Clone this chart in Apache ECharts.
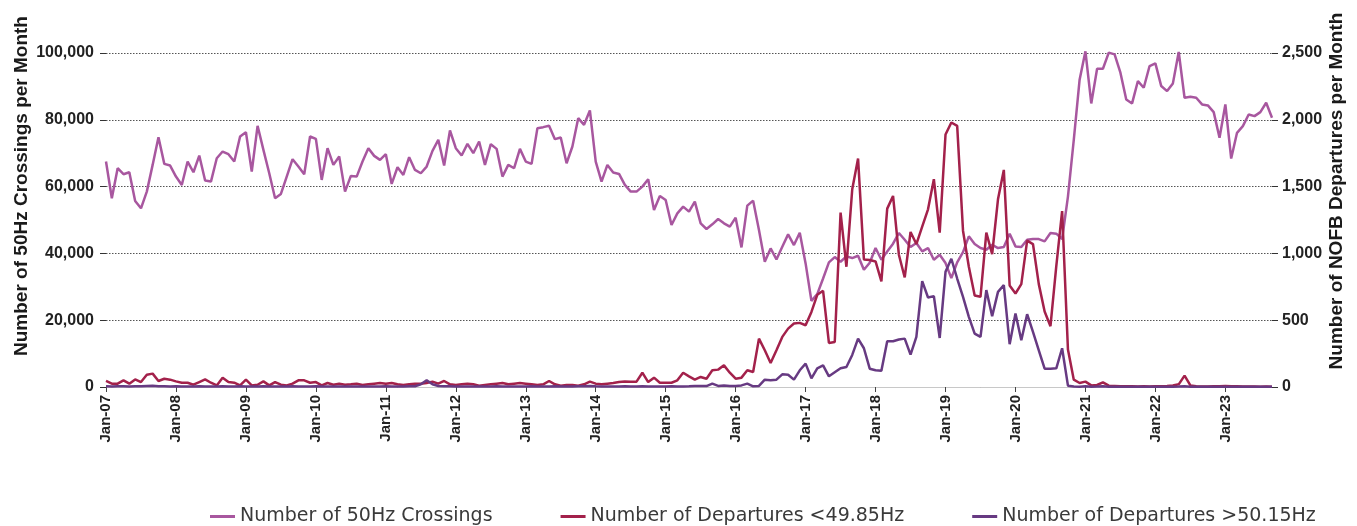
<!DOCTYPE html>
<html>
<head>
<meta charset="utf-8">
<script src="https://cdn.jsdelivr.net/npm/echarts@6/dist/echarts.min.js"></script>
<style>
html,body{margin:0;padding:0;background:#fff;}
#chart{width:1357px;height:526px;}
</style>
</head>
<body>
<div id="chart"></div>
<script>
// ---- data (monthly, Jan-07 .. Sep-23) ----
const startYear = 2007;
const monthNames = ['Jan','Feb','Mar','Apr','May','Jun','Jul','Aug','Sep','Oct','Nov','Dec'];
const seriesNames = ['Number of 50Hz Crossings', 'Number of Departures <49.85Hz', 'Number of Departures >50.15Hz'];

const crossings = [
67500,56500,65500,63700,64300,55700,53500,58500,66500,74800,66800,66300,
63000,60500,67500,64300,69300,61800,61500,68500,70500,69700,67500,75000,
76300,64500,78200,71000,64000,56500,57800,63000,68200,66000,63700,75000,
74300,62000,71500,66500,69000,58500,63200,63000,67500,71500,69200,68000,
69700,60800,65800,63500,68800,65000,64000,66000,70700,74000,66300,76800,
71500,69300,72800,70000,73500,66500,72700,71300,63000,66500,65500,71300,
67500,66800,77500,77800,78200,74200,74700,67000,72000,80500,78500,82800,
67500,61500,66500,64200,63800,60500,58500,58500,60000,62200,53000,57200,
56000,48500,52000,54000,52500,55500,49000,47300,48700,50300,49000,48000,
50700,41800,54300,55800,47000,37500,41500,38200,42000,45700,42500,46200,
37000,25800,27800,32500,37300,38900,37500,39100,38600,39300,35100,37200,
41600,38100,40600,42900,46100,44100,41900,43100,40600,41600,38100,39600,
37100,32600,37300,40400,45100,42800,41600,41100,42600,41600,41900,45900,
42100,41900,44100,44300,44300,43600,46100,45900,44300,57000,74000,92000,
100500,84900,95300,95300,100100,99600,94100,86100,84900,91600,89600,96100,
96900,90100,88600,90900,100300,86600,86900,86600,84600,84300,82300,74600,
84600,68400,76100,78100,81600,81100,82300,85100,80600
];

const departuresLow = [
45,25,25,50,25,57,37,92,100,45,62,55,
42,32,32,17,37,57,32,12,70,37,32,12,
55,12,17,42,12,37,17,12,25,50,50,32,
37,12,30,17,25,17,20,25,15,20,25,30,
25,30,20,15,20,25,25,30,40,25,45,20,
15,20,25,20,10,15,20,25,30,20,25,30,
25,20,15,20,45,20,10,15,15,10,20,40,
25,20,25,30,37,42,40,40,107,37,70,32,
32,32,50,107,80,55,75,62,125,130,162,107,
62,70,125,112,362,275,180,275,375,437,475,480,
462,562,690,720,330,337,1305,900,1480,1710,955,950,
940,790,1335,1430,990,820,1160,1070,1200,1330,1555,1155,
1890,1980,1955,1170,900,685,675,1155,995,1405,1625,760,
700,770,1095,1070,770,565,455,905,1317,280,55,30,
40,12,15,35,10,8,6,5,5,4,5,4,
5,5,8,12,20,85,12,5,4,3,5,6,
8,6,5,4,3,3,2,3,2
];

const departuresHigh = [
5,4,6,5,4,6,5,8,10,6,5,4,
5,4,3,4,5,4,3,4,5,4,3,5,
4,3,4,5,3,4,3,4,5,4,3,4,
5,3,4,3,4,3,3,4,3,4,3,4,
5,4,3,4,5,6,20,50,20,8,5,5,
4,3,4,3,4,3,4,5,4,3,4,3,
4,5,4,3,4,5,4,3,4,5,6,8,
5,4,4,3,4,5,4,4,5,4,3,4,
4,5,4,3,5,8,8,7,25,8,12,8,
8,12,25,5,8,55,50,55,95,92,55,125,
175,65,140,162,80,110,140,150,240,362,290,137,
125,122,342,342,355,362,242,375,792,670,680,367,
862,960,812,675,525,400,375,725,530,712,762,320,
550,350,545,412,275,137,137,140,290,10,3,2,
6,2,3,5,2,2,1,1,1,1,1,1,
1,1,1,2,3,5,2,1,1,1,1,1,
1,1,1,1,1,1,1,1,1
];

const leftTicks = {min: 0, max: 100000, interval: 20000};
const rightTicks = {min: 0, max: 2500, interval: 500};
const leftTitle = 'Number of 50Hz Crossings per Month';
const rightTitle = 'Number of NOFB Departures per Month';

// category labels built from the start year
const categories = crossings.map((_, i) =>
  monthNames[i % 12] + '-' + String((startYear + Math.floor(i / 12)) % 100).padStart(2, '0'));

const colors = ['#A8579F', '#A3214B', '#673A82'];

const chart = echarts.init(document.getElementById('chart'), null, {renderer: 'canvas'});
const axisFont = '"Liberation Sans", Arial, sans-serif';

chart.setOption({
  animation: false,
  color: colors,
  grid: {left: 106, right: 85, top: 53, bottom: 139, containLabel: false},
  legend: {
    left: 205, top: 502,
    icon: 'rect', itemWidth: 25, itemHeight: 3, itemGap: 68,
    textStyle: {fontFamily: '"DejaVu Sans", sans-serif', fontSize: 19, color: '#3a3a3a'},
    data: seriesNames
  },
  xAxis: {
    type: 'category', data: categories, boundaryGap: false,
    axisLine: {show: true, lineStyle: {color: '#c8c8c8', width: 1}},
    axisTick: {show: true, interval: 11, length: 5, lineStyle: {color: '#444'}},
    axisLabel: {interval: 11, rotate: 90, margin: 8, fontFamily: axisFont, fontWeight: 'bold', fontSize: 15, color: '#222'},
    splitLine: {show: false}
  },
  yAxis: [
    {
      type: 'value', min: leftTicks.min, max: leftTicks.max, interval: leftTicks.interval,
      axisLine: {show: false},
      axisTick: {show: true, length: 6, lineStyle: {color: '#333'}},
      axisLabel: {margin: 12, fontFamily: axisFont, fontWeight: 'bold', fontSize: 16, color: '#222',
        formatter: v => v.toLocaleString('en-US')},
      splitLine: {show: true, lineStyle: {color: '#555', type: [1.5, 1.5], width: 1}}
    },
    {
      type: 'value', min: rightTicks.min, max: rightTicks.max, interval: rightTicks.interval,
      position: 'right',
      axisLine: {show: false},
      axisTick: {show: true, length: 6, lineStyle: {color: '#333'}},
      axisLabel: {margin: 10, fontFamily: axisFont, fontWeight: 'bold', fontSize: 16, color: '#222',
        formatter: v => v.toLocaleString('en-US')},
      splitLine: {show: false}
    }
  ],
  graphic: [
    {type: 'text', x: 22, y: 186, rotation: Math.PI / 2,
     style: {text: leftTitle, fill: '#1a1a1a', font: 'bold 19px "Liberation Sans", Arial, sans-serif',
       textAlign: 'center', textVerticalAlign: 'middle', align: 'center', verticalAlign: 'middle'}},
    {type: 'text', x: 1337, y: 191, rotation: Math.PI / 2,
     style: {text: rightTitle, fill: '#1a1a1a', font: 'bold 19px "Liberation Sans", Arial, sans-serif',
       textAlign: 'center', textVerticalAlign: 'middle', align: 'center', verticalAlign: 'middle'}}
  ],
  series: [
    {name: seriesNames[0], type: 'line', yAxisIndex: 0, data: crossings, symbol: 'none', clip: false,
     lineStyle: {width: 2.5, color: colors[0]}, z: 2},
    {name: seriesNames[1], type: 'line', yAxisIndex: 1, data: departuresLow, symbol: 'none', clip: false,
     lineStyle: {width: 2.5, color: colors[1]}, z: 3},
    {name: seriesNames[2], type: 'line', yAxisIndex: 1, data: departuresHigh, symbol: 'none', clip: false,
     lineStyle: {width: 2.5, color: colors[2]}, z: 4}
  ]
});
</script>
</body>
</html>
